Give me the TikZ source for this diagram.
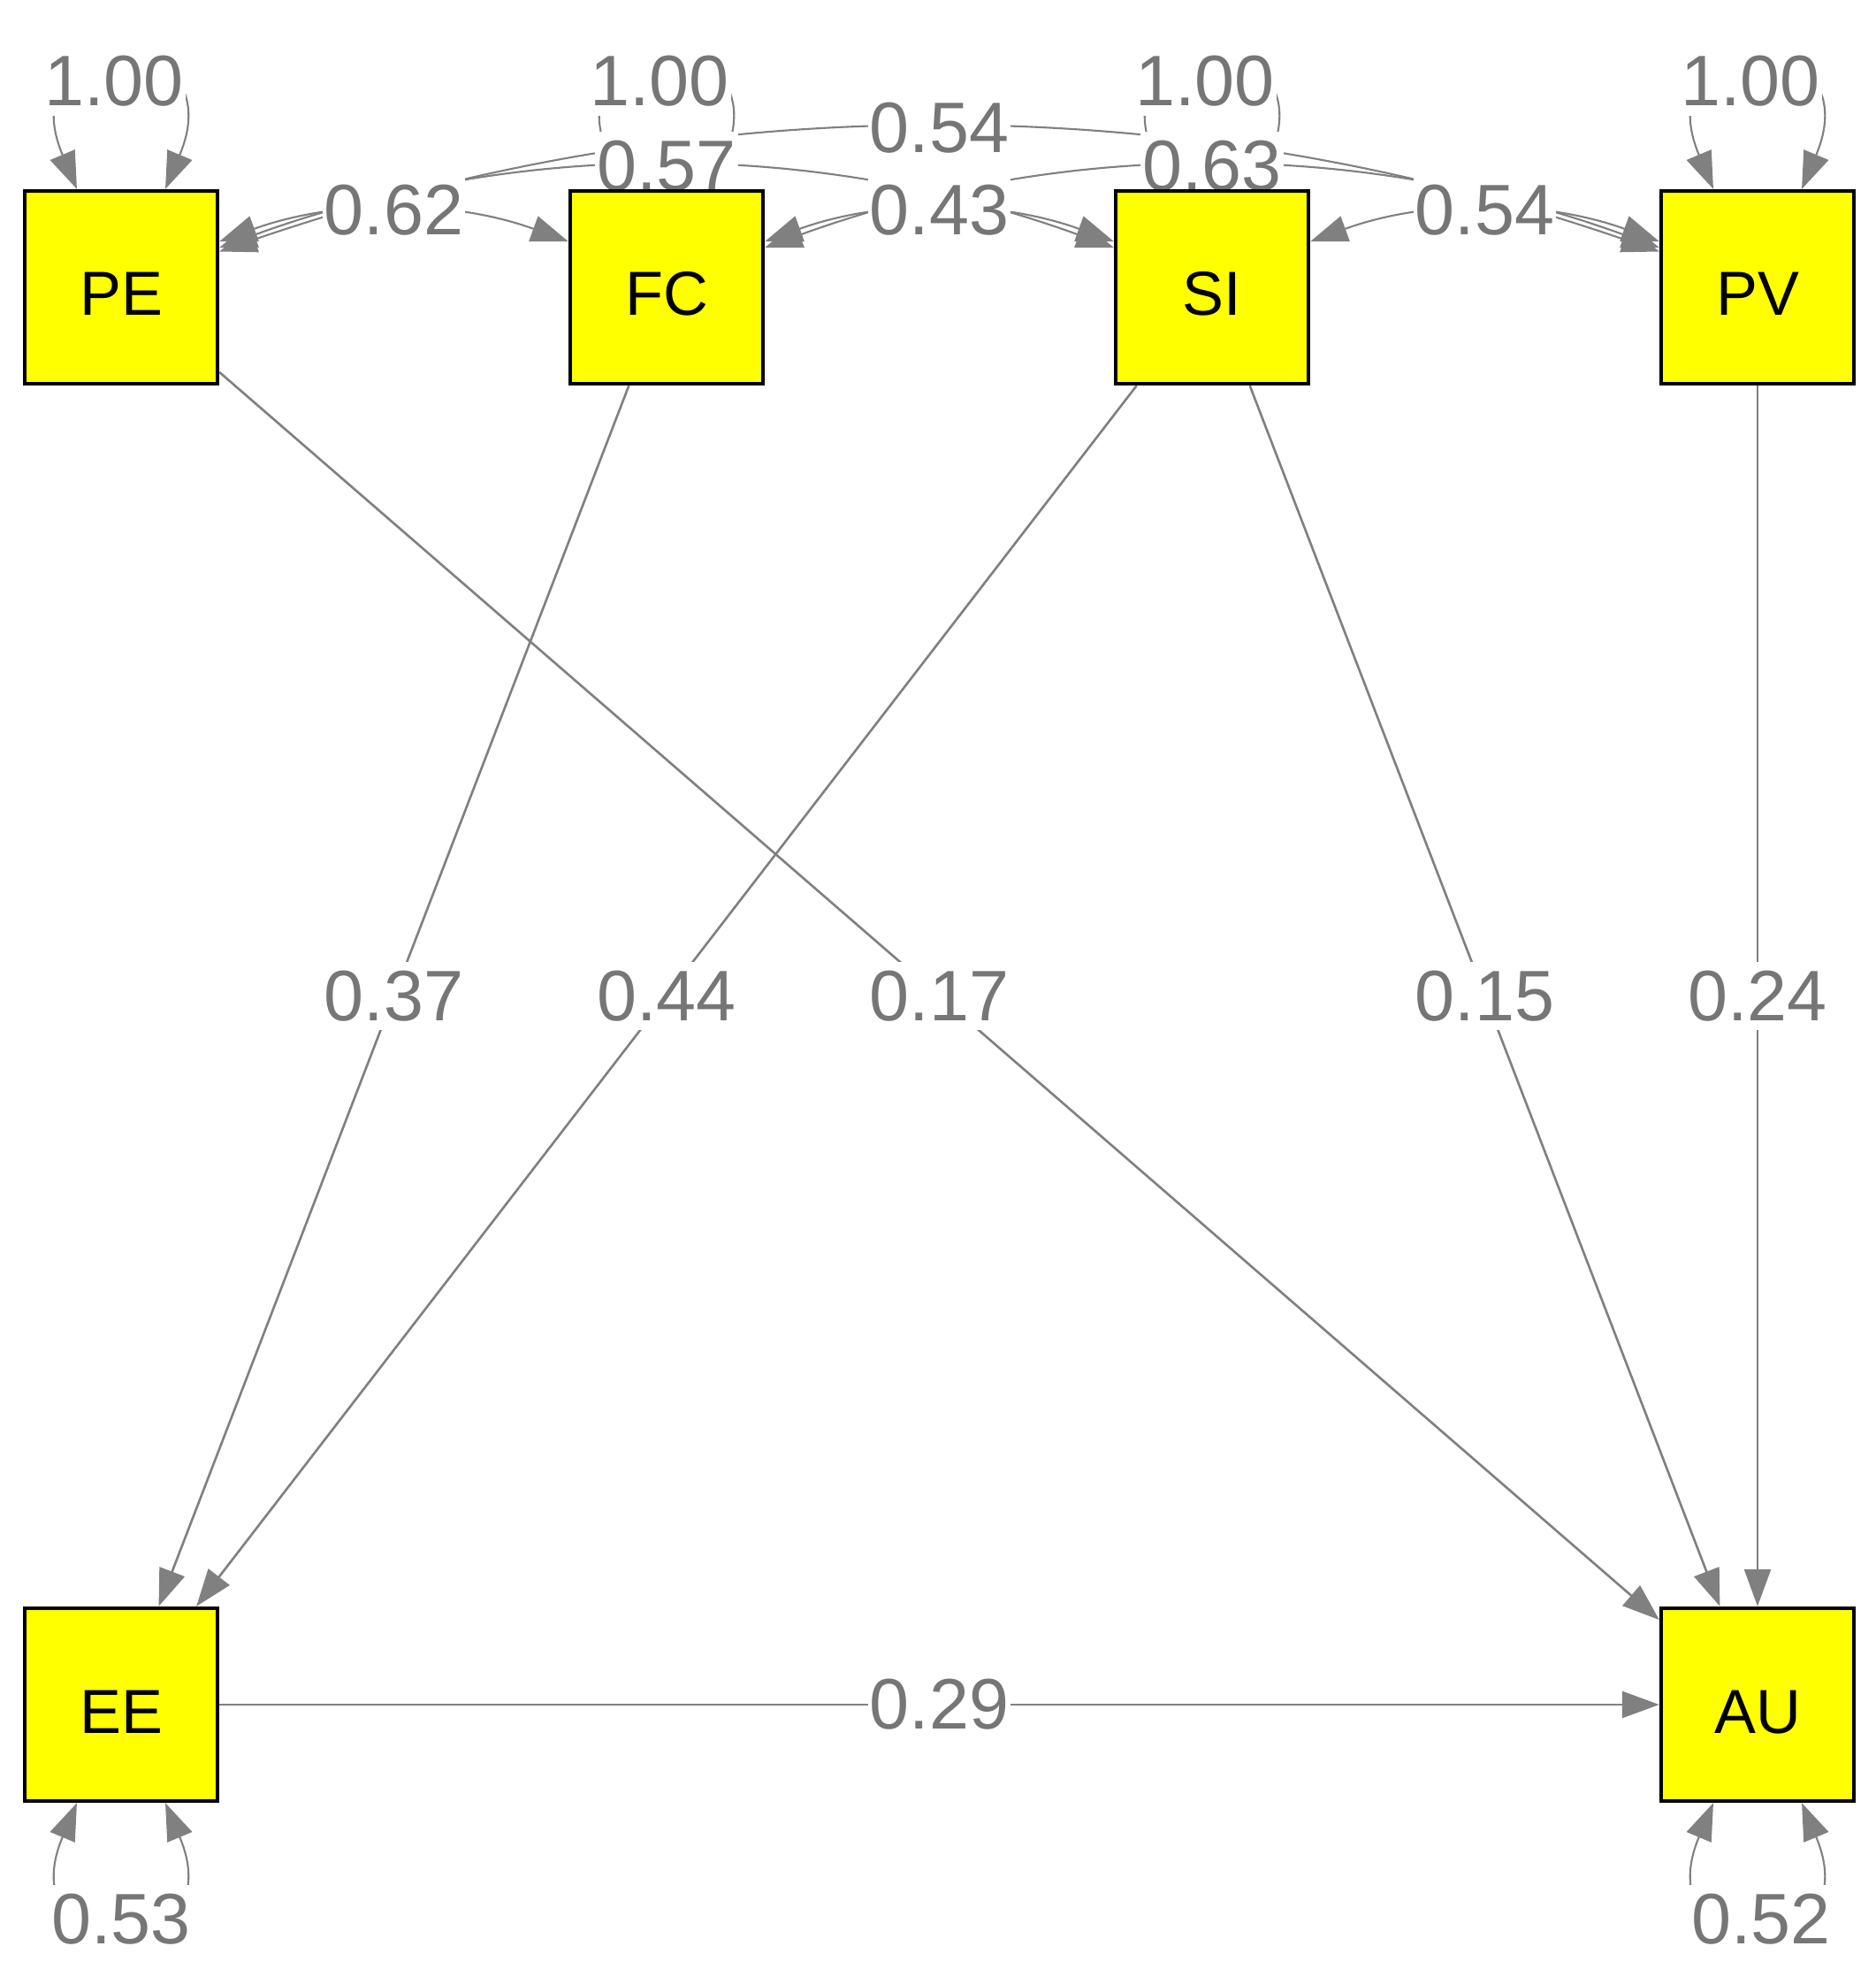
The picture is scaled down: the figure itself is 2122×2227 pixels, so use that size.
\documentclass[tikz,border=0pt]{standalone}
\usepackage{fontspec}
\setmainfont{Liberation Sans}
\usetikzlibrary{arrows.meta,calc}
\pgfdeclarelayer{edges}
\pgfdeclarelayer{labels}
\pgfsetlayers{edges,labels,main}
\definecolor{edgegray}{RGB}{128,128,128}
\definecolor{lblgray}{RGB}{118,118,118}
\definecolor{boxyellow}{RGB}{255,255,0}
\begin{document}
\begin{tikzpicture}[x=0.01cm,y=0.01cm,
  var/.style={draw=black, line width=1.2pt, fill=boxyellow, minimum width=2.18cm, minimum height=2.18cm, inner sep=0pt, font=\fontsize{20pt}{24pt}\selectfont, text=black, text height=0.64cm, text depth=0cm},
  reg/.style={draw=edgegray, line width=0.75pt, -{Triangle[length=0.42cm,width=0.3cm]}},
  cov/.style={draw=edgegray, line width=0.6pt, {Triangle[length=0.42cm,width=0.3cm]}-{Triangle[length=0.42cm,width=0.3cm]}},
  lbl/.style={fill=white, text=lblgray, inner xsep=0.02cm, inner ysep=0.1cm, font=\fontsize{23pt}{27pt}\selectfont},
]
\useasboundingbox (0,0) rectangle (2122,2227);

% nodes
\node[var] (PE) at (137,1902) {PE};
\node[var] (FC) at (754,1902) {FC};
\node[var] (SI) at (1371,1902) {SI};
\node[var] (PV) at (1988,1902) {PV};
\node[var] (EE) at (137,299) {EE};
\node[var] (AU) at (1988,299) {AU};

\begin{pgfonlayer}{edges}
% regressions
\draw[reg] (PE) -- (AU) coordinate[pos=0.5] (mPEAU);
\draw[reg] (FC) -- (EE) coordinate[pos=0.5] (mFCEE);
\draw[reg] (SI) -- (EE) coordinate[pos=0.5] (mSIEE);
\draw[reg] (SI) -- (AU) coordinate[pos=0.5] (mSIAU);
\draw[reg] (PV) -- (AU) coordinate[pos=0.5] (mPVAU);
\draw[reg] (EE) -- (AU) coordinate[pos=0.5] (mEEAU);

% variance loops
\foreach \n in {PE,FC,SI,PV}{
  \draw[cov] ([xshift=-0.5cm]\n.north) .. controls +(-80,190) and +(80,190) .. ([xshift=0.5cm]\n.north);
}
\foreach \n in {EE,AU}{
  \draw[cov] ([xshift=-0.5cm]\n.south) .. controls +(-80,-190) and +(80,-190) .. ([xshift=0.5cm]\n.south);
}

% covariances
\draw[cov] (PE.25) .. controls +(20:140) and +(160:140) .. (FC.155) coordinate[pos=0.5] (cPEFC);
\draw[cov] (FC.25) .. controls +(20:140) and +(160:140) .. (SI.155) coordinate[pos=0.5] (cFCSI);
\draw[cov] (SI.25) .. controls +(20:140) and +(160:140) .. (PV.155) coordinate[pos=0.5] (cSIPV);
\draw[cov] (PE.22) .. controls +(20:359) and +(160:359) .. (SI.158) coordinate[pos=0.5] (cPESI);
\draw[cov] (FC.22) .. controls +(20:359) and +(160:359) .. (PV.158) coordinate[pos=0.5] (cFCPV);
\draw[cov] (PE.20) .. controls +(19:573) and +(161:573) .. (PV.160) coordinate[pos=0.5] (cPEPV);
\end{pgfonlayer}

\begin{pgfonlayer}{labels}
\node[lbl] at (mPEAU) {0.17};
\node[lbl] at (mFCEE) {0.37};
\node[lbl] at (mSIEE) {0.44};
\node[lbl] at (mSIAU) {0.15};
\node[lbl] at (mPVAU) {0.24};
\node[lbl] at (mEEAU) {0.29};

\node[lbl] at (cPEFC) {0.62};
\node[lbl] at (cFCSI) {0.43};
\node[lbl] at (cSIPV) {0.54};
\node[lbl] at (cPESI) {0.57};
\node[lbl] at (cFCPV) {0.63};
\node[lbl] at (cPEPV) {0.54};

\node[lbl] (vPE) at (129,2135) {1.00};
\node[lbl] (vFC) at (746,2135) {1.00};
\node[lbl] (vSI) at (1363,2135) {1.00};
\node[lbl] (vPV) at (1980,2135) {1.00};
\node[lbl] (vEE) at (137,56) {0.53};
\node[lbl] (vAU) at (1992,56) {0.52};
\end{pgfonlayer}
\end{tikzpicture}
\end{document}
